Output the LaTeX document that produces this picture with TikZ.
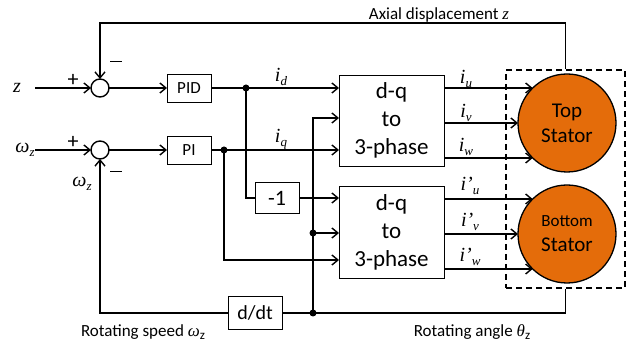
\documentclass[tikz,border=0pt]{standalone}
\usepackage{fontspec}
\setmainfont{Carlito}
\newfontfamily\tm{Liberation Serif}
\usetikzlibrary{arrows.meta,calc}
\definecolor{orng}{RGB}{228,108,10}
\newcommand\mysub[1]{\raisebox{-0.45ex}{\fontsize{13}{14}\selectfont #1}}
\newcommand\mi[1]{{\tm\itshape #1}}
\newcommand\minussign{\rule[0.3ex]{12pt}{1.4pt}}
\tikzset{
 wire/.style={line width=1.6pt},
 arr/.style={wire,-{Straight Barb[length=6pt,width=10pt,line width=1.4pt]}},
 blk/.style={draw,line width=0.9pt,rectangle,inner sep=0pt,outer sep=0pt,fill=white},
 sumnode/.style={draw,circle,line width=1.4pt,minimum size=18pt,inner sep=0pt,outer sep=0pt},
 stator/.style={draw,circle,line width=1.3pt,minimum size=98pt,inner sep=0pt,outer sep=0pt,fill=orng,align=center},
 dot/.style={circle,fill,inner sep=0pt,minimum size=7pt},
 lbl/.style={font=\fontsize{17}{20}\selectfont,inner sep=0pt},
 mth/.style={font=\fontsize{20}{22}\selectfont\tm\itshape,inner sep=0pt},
 sgn/.style={font=\fontsize{22}{22}\selectfont,inner sep=0pt}
}
\begin{document}
\begin{tikzpicture}[x=1pt,y=-1pt]
\useasboundingbox (0,0) rectangle (635,347);
% blocks
\node[sumnode] (sum1) at (100,88) {};
\node[sumnode] (sum2) at (100,150) {};
\node[blk,minimum width=44pt,minimum height=28pt,font=\fontsize{17}{20}\selectfont] (pid) at (189,88) {PID};
\node[blk,minimum width=44pt,minimum height=28pt,font=\fontsize{17}{20}\selectfont] (pi) at (189,150) {PI};
\node[blk,minimum width=44pt,minimum height=31pt,font=\fontsize{22}{24}\selectfont] (neg) at (277,198) {-1};
\node[blk,minimum width=54pt,minimum height=33pt,font=\fontsize{20}{22}\selectfont] (ddt) at (255,313) {d/dt};
\node[blk,minimum width=105pt,minimum height=91pt,align=center,font=\fontsize{23}{28}\selectfont] (dq1) at (391.5,120.5) {d-q\\to\\3-phase};
\node[blk,minimum width=105pt,minimum height=92pt,align=center,font=\fontsize{23}{28}\selectfont] (dq2) at (391.5,232) {d-q\\to\\3-phase};
\node[stator,font=\fontsize{21}{25}\selectfont] (top) at (567,123) {Top\\Stator};
\node[stator,font=\fontsize{21}{25}\selectfont] (bot) at (567,234) {{\fontsize{17}{20}\selectfont Bottom}\\Stator};
\node[draw,dashed,line width=1.4pt,dash pattern=on 6pt off 4pt,minimum width=119pt,minimum height=218pt,inner sep=0pt] (stbox) at (565.5,179) {};
% coordinates
\coordinate (zin) at (35,88);
\coordinate (win) at (35,150);
\coordinate (jd) at (246,88);
\coordinate (jq) at (224,150);
\coordinate (tht) at (313,118);
\coordinate (thm) at (313,233);
\coordinate (thb) at (313,313);
\coordinate (fbtop) at (100,23);
\path ($(top)+(0,-35)$) coordinate (tu) ($(top)+(0,35)$) coordinate (tw)
      ($(bot)+(0,-35)$) coordinate (bu) ($(bot)+(0,35)$) coordinate (bw)
      ($(dq2.west)+(0,28)$) coordinate (q2);
% wires
\draw[arr] (zin) -- (sum1.west);
\draw[arr] (win) -- (sum2.west);
\draw[arr] (sum1.east) -- (pid.west);
\draw[arr] (sum2.east) -- (pi.west);
\draw[arr] (pid.east) -- (pid.east -| dq1.west);
\draw[arr] (pi.east) -- (pi.east -| dq1.west);
\draw[wire] (jd) |- (neg.west);
\draw[arr] (neg.east) -- (neg.east -| dq2.west);
\draw[arr] (jq) |- (q2);
\draw[arr] (thb) -- (tht) -- (tht -| dq1.west);
\draw[arr] (thm) -- (thm -| dq2.west);
\draw[wire] (stbox.south) |- (thb) -- (ddt.east);
\draw[arr] (ddt.west) -| (sum2.south);
\draw[arr] (stbox.north) |- (fbtop) -- (sum1.north);
% outputs
\draw[arr] (tu -| dq1.east) -- ($(top)+(-34.3,-35)$);
\draw[arr] (top.west -| dq1.east) -- (top.west);
\draw[arr] (tw -| dq1.east) -- ($(top)+(-34.3,35)$);
\draw[arr] (bu -| dq2.east) -- ($(bot)+(-34.3,-35)$);
\draw[arr] (bot.west -| dq2.east) -- (bot.west);
\draw[arr] (bw -| dq2.east) -- ($(bot)+(-34.3,35)$);
% dots
\node[dot] at (jd) {};
\node[dot] at (jq) {};
\node[dot] at (thm) {};
\node[dot] at (thb) {};
% labels
\node[mth] at (17,88) {z};
\node[mth] at (25,150) {ω\mysub{z}};
\node[mth] at (82,184) {ω\mysub{z}};
\node[sgn] at (73,80) {+};
\node[sgn] at (73,142) {+};
\node[sgn] at (116,63) {\minussign};
\node[sgn] at (116,173) {\minussign};
\node[mth] at (281,77) {i\mysub{d}};
\node[mth] at (281,139) {i\mysub{q}};
\node[mth] at (466,79) {i\mysub{u}};
\node[mth] at (466,113) {i\mysub{v}};
\node[mth] at (466,147) {i\mysub{w}};
\node[mth] at (470,186) {i’\mysub{u}};
\node[mth] at (470,222) {i’\mysub{v}};
\node[mth] at (470,257) {i’\mysub{w}};
\node[lbl] at (439,15) {Axial displacement \mi{z}};
\node[lbl] at (143,332) {Rotating speed \mi{ω}\mysub{z}};
\node[lbl] at (472,332) {Rotating angle \mi{θ}\mysub{z}};
\end{tikzpicture}
\end{document}
